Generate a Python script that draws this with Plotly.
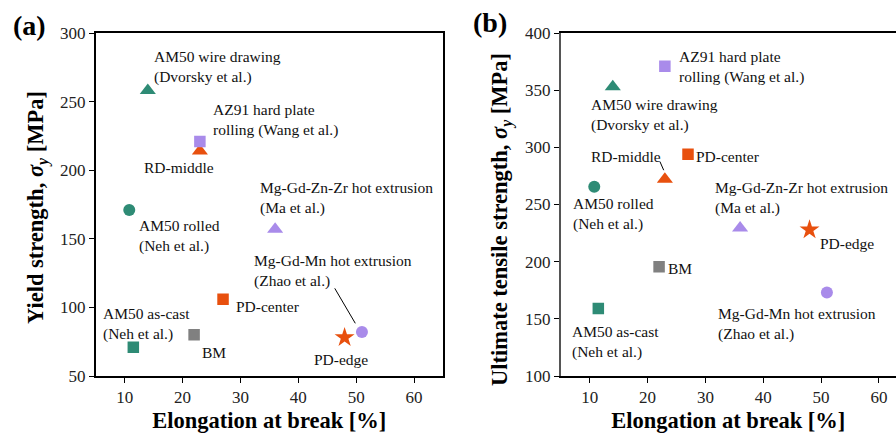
import plotly.graph_objects as go

# ---- data ----
samples = ["AM50 as-cast", "AM50 rolled", "AM50 wire drawing", "RD-middle",
           "AZ91 hard plate rolling", "Mg-Gd-Zn-Zr hot extrusion", "Mg-Gd-Mn hot extrusion",
           "BM", "PD-center", "PD-edge"]
elongation = [11.5, 10.8, 14.0, 23.0, 23.0, 36.0, 51.0, 22.0, 27.0, 48.0]
yield_strength = [71, 171, 258, 214, 221, 157, 82, 80, 106, 78]
uts = [159, 265.5, 353, 272, 371, 229.5, 173, 195.5, 294, 228]
colors = ["#2e8b75", "#2e8b75", "#2e8b75", "#e8500e", "#a98bea", "#a98bea", "#a98bea",
          "#808080", "#e8500e", "#e8500e"]
symbols = ["square", "circle", "triangle-up", "triangle-up", "square", "triangle-up", "circle",
           "square", "square", "star"]
sizes = [11.5, 12, 14, 14, 11.5, 14, 12, 11.5, 11.5, 15]

# label texts and positions (data coords) for panel (a) and (b)
labels_a = ["AM50 wire drawing<br>(Dvorsky et al.)", "AZ91 hard plate<br>rolling (Wang et al.)",
            "RD-middle", "Mg-Gd-Zn-Zr hot extrusion<br>(Ma et al.)", "AM50 rolled<br>(Neh et al.)",
            "Mg-Gd-Mn hot extrusion<br>(Zhao et al.)", "PD-center", "AM50 as-cast<br>(Neh et al.)",
            "BM", "PD-edge"]
lab_a_x = [14.8, 25.0, 13.0, 33.0, 12.1, 32.0, 28.9, 5.9, 23.1, 42.3]
lab_a_y = [275.2, 236.6, 201.8, 179.5, 152.0, 126.5, 100.5, 87.7, 67.3, 62.2]

labels_b = ["AZ91 hard plate<br>rolling (Wang et al.)", "AM50 wire drawing<br>(Dvorsky et al.)",
            "RD-middle", "PD-center", "Mg-Gd-Zn-Zr hot extrusion<br>(Ma et al.)",
            "AM50 rolled<br>(Neh et al.)", "PD-edge", "BM",
            "Mg-Gd-Mn hot extrusion<br>(Zhao et al.)", "AM50 as-cast<br>(Neh et al.)"]
lab_b_x = [25.15, 9.85, 9.9, 28.05, 31.3, 6.85, 49.5, 23.25, 31.9, 6.55]
lab_b_y = [370.2, 328.4, 291.7, 291.7, 255.6, 241.8, 215.9, 194.0, 145.5, 130.0]

x_ticks = [10, 20, 30, 40, 50, 60]

x_title = "<b>Elongation at break [%]</b>"
y_title_a = "<b>Yield strength, <i>σ</i><sub><i>y</i></sub> [MPa]</b>"
y_title_b = "<b>Ultimate tensile strength, <i>σ</i><sub><i>y</i></sub> [MPa]</b>"

FONT = "Liberation Serif"

fig = go.Figure()
for i, name in enumerate(samples):
    fig.add_trace(go.Scatter(x=[elongation[i]], y=[yield_strength[i]], mode="markers",
                             marker=dict(color=colors[i], symbol=symbols[i], size=sizes[i],
                                         line=dict(width=0)),
                             name=name, showlegend=False, hoverinfo="skip",
                             xaxis="x", yaxis="y"))
for i, name in enumerate(samples):
    fig.add_trace(go.Scatter(x=[elongation[i]], y=[uts[i]], mode="markers",
                             marker=dict(color=colors[i], symbol=symbols[i], size=sizes[i],
                                         line=dict(width=0)),
                             name=name, showlegend=False, hoverinfo="skip",
                             xaxis="x2", yaxis="y2"))

ann = []
for t, x, y in zip(labels_a, lab_a_x, lab_a_y):
    ann.append(dict(text=t, x=x, y=y, xref="x", yref="y", xanchor="left", yanchor="middle",
                    align="left", showarrow=False, font=dict(family=FONT, size=15.5, color="#111")))
for t, x, y in zip(labels_b, lab_b_x, lab_b_y):
    ann.append(dict(text=t, x=x, y=y, xref="x2", yref="y2", xanchor="left", yanchor="middle",
                    align="left", showarrow=False, font=dict(family=FONT, size=15.5, color="#111")))

# panel letters (paper y is relative to plot area: 376px -> 0, 33px -> 1)
ann.append(dict(text="<b>(a)</b>", x=11/896, y=(376 - 25) / 343, xref="paper", yref="paper",
                xanchor="left", yanchor="middle", showarrow=False,
                font=dict(family=FONT, size=28, color="black")))
ann.append(dict(text="<b>(b)</b>", x=471/896, y=(376 - 23) / 343, xref="paper", yref="paper",
                xanchor="left", yanchor="middle", showarrow=False,
                font=dict(family=FONT, size=28, color="black")))
# y-axis titles
ann.append(dict(text=y_title_a, x=37/896, y=(376 - 208) / 343, xref="paper", yref="paper",
                xanchor="center", yanchor="middle", textangle=-90, showarrow=False,
                font=dict(family=FONT, size=22.5, color="black")))
ann.append(dict(text=y_title_b, x=501/896, y=(376 - 220) / 343, xref="paper", yref="paper",
                xanchor="center", yanchor="middle", textangle=-90, showarrow=False,
                font=dict(family=FONT, size=22.5, color="black")))

shapes = [
    dict(type="line", xref="x", yref="y", x0=46.3, y0=113.9, x1=49.85, y1=88.4,
         line=dict(color="black", width=1)),
    dict(type="line", xref="x2", yref="y2", x0=22.15, y0=287.5, x1=22.8, y1=280.0,
         line=dict(color="black", width=1)),
]

axis_common = dict(showgrid=False, zeroline=False, showline=True, ticks="outside",
                   ticklen=5, tickwidth=1, tickcolor="black", linewidth=1.5,
                   tickfont=dict(family=FONT, size=17, color="#222"))

fig.update_layout(
    width=896, height=436,
    margin=dict(l=0, r=0, t=33, b=60),
    paper_bgcolor="white", plot_bgcolor="white",
    xaxis=dict(domain=[95.7/896, 443/896], range=[5, 65], tickvals=x_ticks, mirror=True,
               linecolor="black", anchor="y",
               title=dict(text=x_title, font=dict(family=FONT, size=22.5, color="black"),
                          standoff=6),
               **axis_common),
    yaxis=dict(domain=[0, 1], range=[50, 300], dtick=50, mirror=True, linecolor="black",
               anchor="x", **axis_common),
    xaxis2=dict(domain=[560.7/896, 1.0], range=[5, 62.94], tickvals=x_ticks, mirror=True,
                linecolor="black", anchor="y2",
                title=dict(text=x_title, font=dict(family=FONT, size=22.5, color="black"),
                           standoff=6),
                **axis_common),
    yaxis2=dict(domain=[0, 1], range=[100, 400], dtick=50, mirror=False, linecolor="#555",
                anchor="x2", **axis_common),
    annotations=ann,
    shapes=shapes,
)

fig.write_html("out.html")
